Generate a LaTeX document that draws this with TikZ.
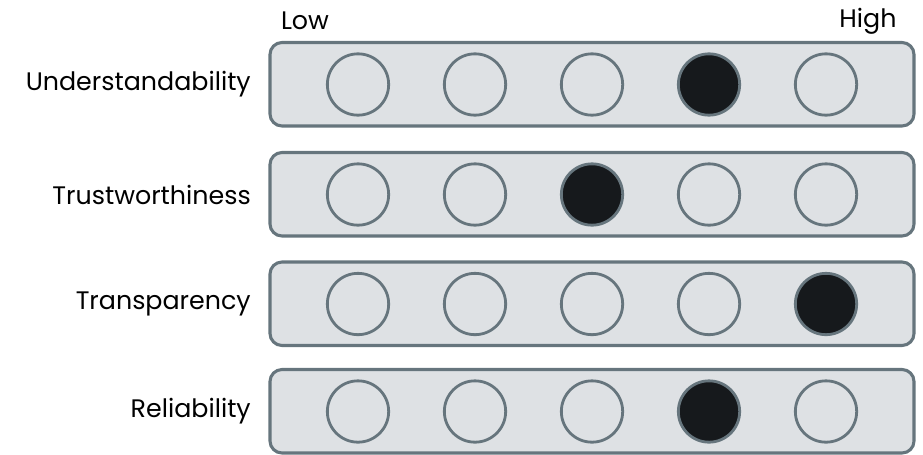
\documentclass[tikz,border=0pt]{standalone}
\usepackage{fontspec}
\setmainfont{Poppins}
\definecolor{boxfill}{HTML}{DEE1E4}
\definecolor{edge}{HTML}{66757D}
\definecolor{dot}{HTML}{16191C}
\begin{document}
\begin{tikzpicture}[x=0.75pt,y=-0.75pt,
  bar/.style={draw=edge,fill=boxfill,line width=2.3pt,rounded corners=9pt},
  opt/.style={circle,draw=edge,line width=2.1pt,minimum size=46pt,inner sep=0pt},
  sel/.style={opt,fill=dot},
  lab/.style={anchor=east,font=\fontsize{19}{22}\selectfont,inner sep=0pt},
  top/.style={font=\fontsize{19}{22}\selectfont,inner sep=0pt}]
\useasboundingbox (0,0) rectangle (923,454);
\foreach \n/\y/\t/\s in {1/84.5/Understandability/4, 2/194.5/Trustworthiness/3, 3/304/Transparency/5, 4/411.5/Reliability/4}{
  \draw[bar] (270,\y-42) rectangle (914,\y+41.5);
  \node[lab] (l\n) at (251,\y) {\t};
  \foreach \k/\x in {1/358,2/475,3/592,4/709,5/826}{
    \ifnum\k=\s
      \node[sel] (c\n\k) at (\x,\y) {};
    \else
      \node[opt] (c\n\k) at (\x,\y) {};
    \fi
  }
}
\node[top] (low) at (305,21) {Low};
\node[top] (high) at (868,21) {High};
\end{tikzpicture}
\end{document}
